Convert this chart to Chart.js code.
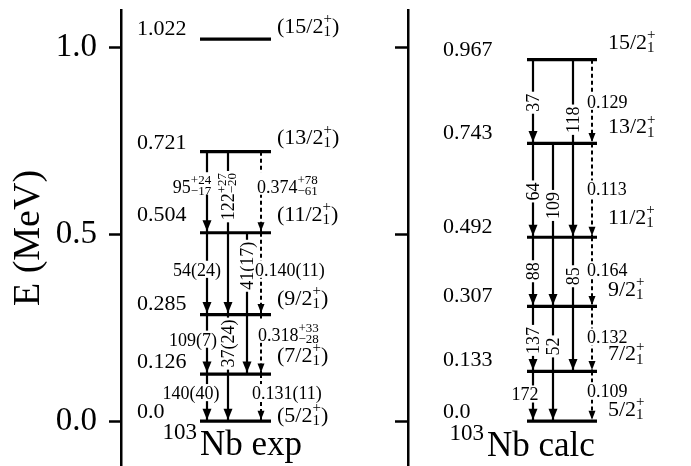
<!DOCTYPE html>
<html><head><meta charset="utf-8">
<script src="https://cdn.jsdelivr.net/npm/chart.js@4.4.1/dist/chart.umd.min.js"></script>
<style>html,body{margin:0;padding:0;background:#fff;}#wrap{width:691px;height:466px;}</style>
</head><body><div id="wrap"><canvas id="c" width="691" height="466"></canvas></div>
<script>
// ---------------- data ----------------
const yTickValues = [0.0, 0.5, 1.0];
const yTickLabels = ['0.0', '0.5', '1.0'];
const axisTitle = 'E (MeV)';

const expLevelEnergies = [0.0, 0.126, 0.285, 0.504, 0.721, 1.022];
const expLevelLabels = ['0.0', '0.126', '0.285', '0.504', '0.721', '1.022'];
const expSpinLabels = ['(5/2_1^+)', '(7/2_1^+)', '(9/2_1^+)', '(11/2_1^+)', '(13/2_1^+)', '(15/2_1^+)'];
const expTransFrom = [4, 4, 4, 3, 3, 3, 2, 2, 2, 1, 1];
const expTransTo = [3, 2, 3, 2, 1, 2, 1, 0, 1, 0, 0];
const expTransType = ['E2', 'E2', 'M1', 'E2', 'E2', 'M1', 'E2', 'E2', 'M1', 'E2', 'M1'];
const expTransLabels = ['95^{+24}_{−17}', '122^{+27}_{−20}', '0.374^{+78}_{−61}', '54(24)', '41(17)', '0.140(11)',
  '109(7)', '37(24)', '0.318^{+33}_{−28}', '140(40)', '0.131(11)'];
const expName = ['103', 'Nb exp'];

const calcLevelEnergies = [0.0, 0.133, 0.307, 0.492, 0.743, 0.967];
const calcLevelLabels = ['0.0', '0.133', '0.307', '0.492', '0.743', '0.967'];
const calcSpinLabels = ['5/2_1^+', '7/2_1^+', '9/2_1^+', '11/2_1^+', '13/2_1^+', '15/2_1^+'];
const calcTransFrom = [5, 5, 5, 4, 4, 4, 3, 3, 3, 2, 2, 2, 1, 1];
const calcTransTo = [4, 3, 4, 3, 2, 3, 2, 1, 2, 1, 0, 1, 0, 0];
const calcTransType = ['E2', 'E2', 'M1', 'E2', 'E2', 'M1', 'E2', 'E2', 'M1', 'E2', 'E2', 'M1', 'E2', 'M1'];
const calcTransLabels = ['37', '118', '0.129', '64', '109', '0.113', '88', '85', '0.164', '137', '52', '0.132', '172', '0.109'];
const calcName = ['103', 'Nb calc'];

// ---------------- layout (positions / styles only) ----------------
const FONT = "'Liberation Serif', 'Times New Roman', serif";
const layoutExp = {
  levelX: [200, 271], slotX: [207, 228, 247, 261], energyX: 137, spinX: 277,
  energyDy: [-11, -13.5, -12, -19, -10, -12], spinDy: [-7, -20, -17, -19, -15, -14],
  transSlot: [0, 1, 3, 0, 2, 3, 0, 1, 3, 0, 3],
  transOrient: ['h', 'v', 'h', 'h', 'v', 'h', 'h', 'v', 'h', 'h', 'h'],
  transDy: [35, 45, 35, 37, 33, 37, 25, 29, 20, 19, 19],
  transDx: [-15, 0, -4, -10, 0, -6, -14, 0, -3, -16, -9],
  nameX: 200, nameBase: 455
};
const layoutCalc = {
  levelX: [527, 597], slotX: [533, 553, 573, 592], energyX: 443, spinX: 608,
  energyDy: [-11, -12.5, -12, -12, -11.5, -11], spinDy: [-13, -18.5, -18, -21, -17.5, -18],
  transSlot: [0, 2, 3, 0, 1, 3, 0, 2, 3, 0, 1, 3, 0, 3],
  transOrient: ['v', 'v', 'h', 'v', 'v', 'h', 'v', 'v', 'h', 'v', 'v', 'h', 'h', 'h'],
  transDy: [43, 60, 42, 48, 62, 46, 34, 39, 33, 34, 40, 31, 23, 20],
  transDx: [0, 0, -5, 0, 0, -5, 0, 0, -5, 0, 0, -5, -8, -5],
  nameX: 487, nameBase: 456
};

const panels = [
  {energies: expLevelEnergies, elabels: expLevelLabels, spins: expSpinLabels, from: expTransFrom, to: expTransTo,
   type: expTransType, tlabels: expTransLabels, name: expName, L: layoutExp},
  {energies: calcLevelEnergies, elabels: calcLevelLabels, spins: calcSpinLabels, from: calcTransFrom, to: calcTransTo,
   type: calcTransType, tlabels: calcTransLabels, name: calcName, L: layoutCalc}
];

// ---------------- datasets ----------------
const datasets = [];
panels.forEach((p, pi) => {
  p.from.forEach((fr, i) => {
    const x = p.L.slotX[p.L.transSlot[i]];
    const dashed = p.type[i] === 'M1';
    datasets.push({
      data: [{x: x, y: p.energies[fr]}, {x: x, y: p.energies[p.to[i]]}],
      borderColor: '#000', borderWidth: dashed ? 2 : 2.2, borderDash: dashed ? [4, 3] : [],
      borderCapStyle: 'butt', pointRadius: 0, _arrow: true, _dashed: dashed
    });
  });
  p.energies.forEach(e => {
    datasets.push({
      data: [{x: p.L.levelX[0], y: e}, {x: p.L.levelX[1], y: e}],
      borderColor: '#000', borderWidth: 3.2, borderCapStyle: 'butt', pointRadius: 0
    });
  });
});

// ---------------- rich text helpers ----------------
function parseRich(s) {
  const parts = []; let i = 0; let base = '';
  while (i < s.length) {
    const c = s[i];
    if (c === '^' || c === '_') {
      if (base) { parts.push({t: base}); base = ''; }
      i++; let grp;
      if (s[i] === '{') { const j = s.indexOf('}', i); grp = s.slice(i + 1, j); i = j + 1; }
      else { grp = s[i]; i++; }
      let last = parts[parts.length - 1];
      if (!last || last.t !== undefined) { last = {sup: '', sub: ''}; parts.push(last); }
      if (c === '^') last.sup = grp; else last.sub = grp;
    } else { base += c; i++; }
  }
  if (base) parts.push({t: base});
  return parts;
}
function f(size) { return size + 'px ' + FONT; }
function richWidth(ctx, parts, size, ss) {
  let w = 0;
  parts.forEach(p => {
    if (p.t !== undefined) { ctx.font = f(size); w += ctx.measureText(p.t).width; }
    else { ctx.font = f(ss); w += Math.max(ctx.measureText(p.sup).width, ctx.measureText(p.sub).width); }
  });
  return w;
}
function drawRich(ctx, parts, x, base, size, ss) {
  let cx = x;
  ctx.textAlign = 'left'; ctx.textBaseline = 'alphabetic';
  parts.forEach(p => {
    if (p.t !== undefined) { ctx.font = f(size); ctx.fillText(p.t, cx, base); cx += ctx.measureText(p.t).width; }
    else {
      ctx.font = f(ss);
      if (p.sup) ctx.fillText(p.sup, cx, base - 0.45 * size);
      if (p.sub) ctx.fillText(p.sub, cx, base + 0.14 * size);
      cx += Math.max(ctx.measureText(p.sup).width, ctx.measureText(p.sub).width);
    }
  });
}

const drawPlugin = {
  id: 'levelScheme',
  afterDatasetsDraw(chart) {
    const ctx = chart.ctx;
    const ys = chart.scales.y, xs = chart.scales.x;
    ctx.save();
    ctx.fillStyle = '#000';
    // arrowheads
    chart.data.datasets.forEach((ds, di) => {
      if (!ds._arrow) return;
      const pt = chart.getDatasetMeta(di).data[1];
      const w = ds._dashed ? 7 : 9, h = ds._dashed ? 9 : 11;
      const tipY = pt.y - 1.5;
      ctx.beginPath();
      ctx.moveTo(pt.x, tipY);
      ctx.lineTo(pt.x - w / 2, tipY - h);
      ctx.lineTo(pt.x + w / 2, tipY - h);
      ctx.closePath();
      ctx.fill();
    });
    panels.forEach(p => {
      const L = p.L;
      p.energies.forEach((e, i) => {
        const py = ys.getPixelForValue(e);
        ctx.fillStyle = '#000';
        ctx.font = f(22); ctx.textAlign = 'left'; ctx.textBaseline = 'alphabetic';
        ctx.fillText(p.elabels[i], xs.getPixelForValue(L.energyX), py + L.energyDy[i] + 7.5);
        drawRich(ctx, parseRich(p.spins[i]), xs.getPixelForValue(L.spinX), py + L.spinDy[i] + 7.5, 22, 15);
      });
      p.from.forEach((fi, i) => {
        const size = 18, ss = 13;
        const lx = xs.getPixelForValue(L.slotX[L.transSlot[i]]);
        const cy = ys.getPixelForValue(p.energies[fi]) + L.transDy[i];
        const parts = parseRich(p.tlabels[i]);
        const w = richWidth(ctx, parts, size, ss);
        const hasScr = parts.some(q => q.t === undefined);
        const top = hasScr ? -0.55 * size - 0.35 * ss : -0.5 * size;
        const bot = 0.45 * size;
        if (L.transOrient[i] === 'v') {
          ctx.save();
          ctx.translate(lx, cy);
          ctx.rotate(-Math.PI / 2);
          ctx.fillStyle = '#fff';
          ctx.fillRect(-w / 2 - 2, top, w + 4, bot - top);
          ctx.fillStyle = '#000';
          drawRich(ctx, parts, -w / 2, 0.33 * size, size, ss);
          ctx.restore();
        } else {
          const dashed = p.type[i] === 'M1';
          const x0 = dashed ? lx + L.transDx[i] : lx + L.transDx[i] - w / 2;
          ctx.fillStyle = '#fff';
          ctx.fillRect(x0 - 1, cy + top, w + 2, bot - top);
          ctx.fillStyle = '#000';
          drawRich(ctx, parts, x0, cy + 0.33 * size, size, ss);
        }
      });
      const nx = xs.getPixelForValue(L.nameX);
      ctx.fillStyle = '#000';
      ctx.font = f(23); ctx.textAlign = 'right'; ctx.textBaseline = 'alphabetic';
      ctx.fillText(p.name[0], nx - 3, L.nameBase - 16);
      ctx.font = f(35); ctx.textAlign = 'left';
      ctx.fillText(p.name[1], nx, L.nameBase);
    });
    ctx.restore();
  }
};

const noPad = s => { s.paddingTop = 0; s.paddingBottom = 0; };
const axisCommon = {
  type: 'linear', min: -0.12, max: 1.10,
  afterBuildTicks: s => { s.ticks = yTickValues.map(v => ({value: v})); },
  grid: {drawOnChartArea: false, tickLength: 12, tickWidth: 2.5, tickColor: '#000'},
  border: {color: '#000', width: 2.5}
};

new Chart(document.getElementById('c'), {
  type: 'line',
  data: {datasets: datasets},
  options: {
    responsive: false, animation: false, devicePixelRatio: 1,
    layout: {padding: {top: 10, left: 0, right: 0, bottom: 0}},
    plugins: {legend: {display: false}, tooltip: {enabled: false}, title: {display: false}},
    scales: {
      x: {type: 'linear', min: 121, max: 691, display: false},
      y: Object.assign({}, axisCommon, {
        position: 'left',
        afterFit: s => { s.width = 121; noPad(s); },
        ticks: {callback: v => yTickLabels[yTickValues.indexOf(v)], font: {family: FONT, size: 33}, color: '#000', padding: 12},
        title: {display: true, text: axisTitle, color: '#000', font: {family: FONT, size: 38, lineHeight: 1.2}, padding: {top: 6, bottom: 0}}
      }),
      y2: Object.assign({}, axisCommon, {
        position: {x: 408},
        afterFit: noPad,
        ticks: {display: true, color: 'rgba(0,0,0,0)', font: {size: 1}}
      })
    }
  },
  plugins: [drawPlugin]
});
</script></body></html>
